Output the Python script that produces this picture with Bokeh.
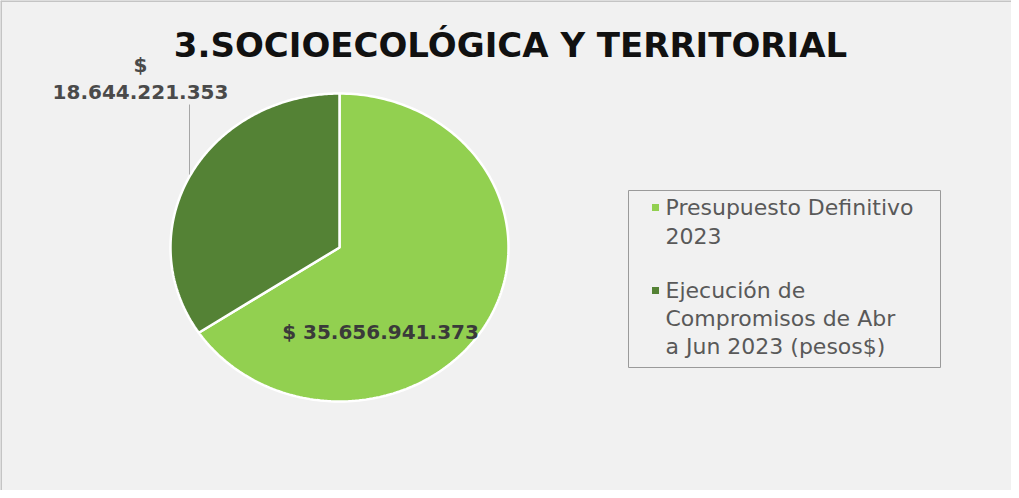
import numpy as np
from bokeh.plotting import figure
from bokeh.models import Range1d, Span
from bokeh.core.properties import value
from bokeh.embed import file_html
from bokeh.resources import INLINE

# ---- data ----
title = "3.SOCIOECOLÓGICA Y TERRITORIAL"
categories = ["Presupuesto Definitivo 2023",
              "Ejecución de Compromisos de Abr a Jun 2023 (pesos$)"]
legend_lines = [["Presupuesto Definitivo", "2023"],
                ["Ejecución de", "Compromisos de Abr", "a Jun 2023 (pesos$)"]]
values = [35656941373, 18644221353]
colors = ["#92d050", "#548235"]

def fmt(v):
    return "$ " + f"{v:,}".replace(",", ".")

W, H = 1011, 490
p = figure(width=W, height=H, output_backend="svg", toolbar_location=None,
           x_range=Range1d(0, W), y_range=Range1d(H, 0), min_border=0)
p.axis.visible = False
p.grid.visible = False
p.background_fill_color = "#f1f1f1"
p.border_fill_color = "#f1f1f1"
p.outline_line_color = None

# frame border (top, left)
p.add_layout(Span(location=0, dimension="width", line_color="#c4c4c4", line_width=3))
p.add_layout(Span(location=0, dimension="height", line_color="#c4c4c4", line_width=3))

# ---- pie (elliptical, clockwise from 12 o'clock) ----
cx, cy, rx, ry = 339, 247, 169, 154
total = sum(values)
fracs = np.array(values) / total
ends = np.cumsum(fracs)
starts = ends - fracs
xs, ys = [], []
for s, e in zip(starts, ends):
    th = np.pi / 2 - 2 * np.pi * np.linspace(s, e, 200)
    xs.append(np.concatenate([[cx], cx + rx * np.cos(th), [cx]]))
    ys.append(np.concatenate([[cy], cy - ry * np.sin(th), [cy]]))
p.patches(xs, ys, fill_color=colors, line_color="white", line_width=2.5)

# ---- data labels ----
p.text([380], [331], text=[fmt(values[0])], text_font=value("DejaVu Sans"),
       text_font_style="bold", text_font_size="20px", text_color="#3a3a3a",
       text_align="center", text_baseline="middle")
lab2 = fmt(values[1]).split(" ")
p.text([140, 140], [64, 91], text=lab2, text_font=value("DejaVu Sans"),
       text_font_style="bold", text_font_size="20px", text_color="#4a4a4a",
       text_align="center", text_baseline="middle")
p.segment([189], [104], [189], [174], line_color="#a6a6a6", line_width=1)

# ---- title ----
p.text([510], [44], text=[title], text_font=value("DejaVu Sans"),
       text_font_style="bold", text_font_size="34px", text_color="#111111",
       text_align="center", text_baseline="middle")

# ---- legend ----
p.quad(left=[628], right=[940], top=[190], bottom=[367], fill_color=None,
       line_color="#9a9a9a", line_width=1)
item_y = [207, 290]
p.rect([655, 655], item_y, width=7, height=7, fill_color=colors, line_color=None)
tx, ty = [], []
for lines, y0 in zip(legend_lines, item_y):
    for i, ln in enumerate(lines):
        tx.append(ln)
        ty.append(y0 + 28 * i)
p.text([665] * len(tx), ty, text=tx, text_font=value("DejaVu Sans"),
       text_font_size="22px", text_color="#595959",
       text_align="left", text_baseline="middle")

open("out.html", "w").write(file_html(p, INLINE))
